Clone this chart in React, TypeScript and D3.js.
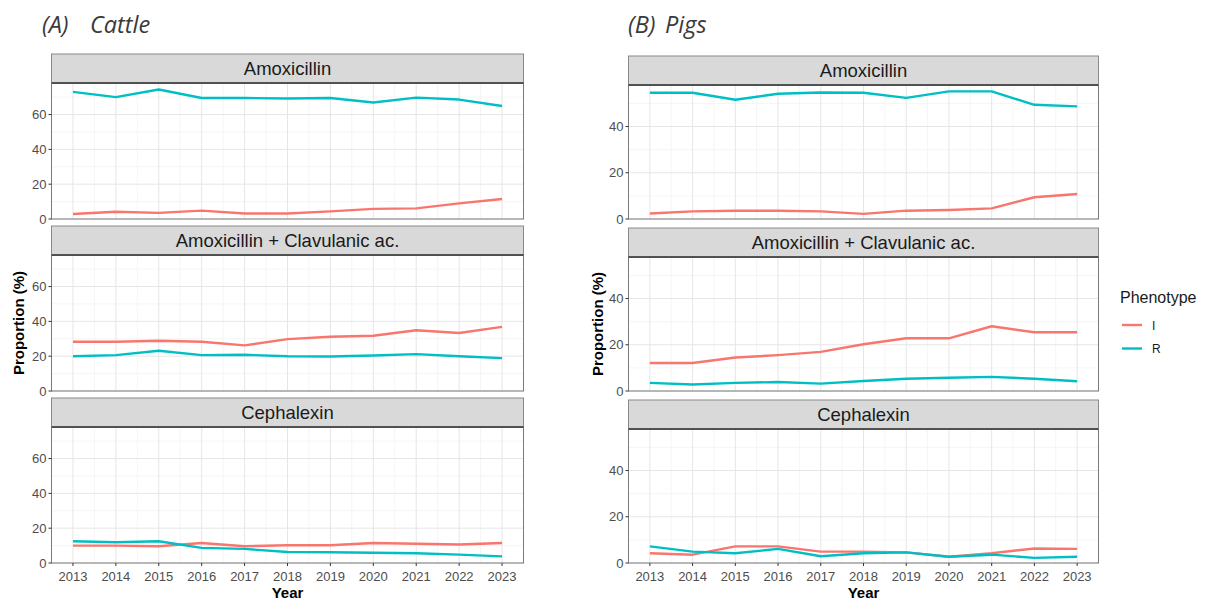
import React from "react";
import * as d3 from "d3";

const years = [2013, 2014, 2015, 2016, 2017, 2018, 2019, 2020, 2021, 2022, 2023];
const drugs = ["Amoxicillin", "Amoxicillin + Clavulanic ac.", "Cephalexin"];
const phenotypes = ["I", "R"];
const phenoColors = ["#F8766D", "#00BFC4"];

// Cattle
const cattleAmoxI = [2.9, 4.2, 3.5, 4.8, 3.2, 3.2, 4.4, 5.8, 6.1, 9.0, 11.5];
const cattleAmoxR = [73.0, 70.0, 74.4, 69.5, 69.5, 69.2, 69.5, 66.9, 69.7, 68.6, 64.9];
const cattleClavI = [28.3, 28.3, 28.9, 28.3, 26.2, 29.8, 31.2, 31.7, 34.9, 33.3, 36.8];
const cattleClavR = [20.0, 20.6, 23.1, 20.6, 20.8, 20.0, 19.8, 20.4, 21.2, 20.0, 18.9];
const cattleCephI = [10.0, 10.0, 9.6, 11.5, 9.6, 10.2, 10.2, 11.5, 11.1, 10.6, 11.5];
const cattleCephR = [12.5, 11.9, 12.5, 8.7, 8.1, 6.3, 6.2, 5.9, 5.6, 4.8, 3.8];

// Pigs
const pigsAmoxI = [2.4, 3.3, 3.6, 3.6, 3.3, 2.2, 3.6, 3.9, 4.6, 9.4, 10.8];
const pigsAmoxR = [54.6, 54.6, 51.6, 54.2, 54.7, 54.6, 52.4, 55.2, 55.2, 49.4, 48.7];
const pigsClavI = [12.1, 12.1, 14.5, 15.5, 16.9, 20.2, 22.8, 22.8, 28.0, 25.4, 25.4];
const pigsClavR = [3.5, 2.8, 3.5, 3.9, 3.2, 4.3, 5.3, 5.7, 6.1, 5.3, 4.2];
const pigsCephI = [4.2, 3.6, 7.2, 7.2, 4.9, 4.9, 4.6, 2.7, 4.2, 6.3, 6.1];
const pigsCephR = [7.2, 4.9, 4.2, 6.1, 2.9, 4.2, 4.6, 2.7, 3.6, 2.2, 2.7];

const cattleTicks = [0, 20, 40, 60];
const pigsTicks = [0, 20, 40];

const cattleData = [
  [cattleAmoxI, cattleAmoxR],
  [cattleClavI, cattleClavR],
  [cattleCephI, cattleCephR],
];
const pigsData = [
  [pigsAmoxI, pigsAmoxR],
  [pigsClavI, pigsClavR],
  [pigsCephI, pigsCephR],
];

const SANS = "'Liberation Sans', Arial, sans-serif";

type ChartProps = {
  left: number;
  right: number;
  top: number;
  stripH: number;
  panelH: number;
  gap: number;
  data: number[][][];
  ticks: number[];
  title: string[];
  titleX: number[];
  yTitleX: number;
};

function Facets(p: ChartProps) {
  const allVals = p.data.flat(2);
  const yMax = (d3.max(allVals) as number) * 1.05;
  const x = d3
    .scaleLinear()
    .domain([years[0] - 0.5, years[years.length - 1] + 0.5])
    .range([p.left, p.right]);
  const pitch = p.stripH + p.panelH + p.gap;
  const minorX = d3.range(years[0] - 0.5, years[years.length - 1] + 0.51, 1);
  const step = p.ticks[1] - p.ticks[0];
  const minorY = d3.range(step / 2, yMax, step);
  const lastBottom = p.top + 2 * pitch + p.stripH + p.panelH;
  const midY = (p.top + p.stripH + lastBottom) / 2;

  return (
    <g>
      {p.title.map((t, k) => (
        <text key={t} x={p.titleX[k]} y={33} fontFamily="'Open Sans', sans-serif" fontStyle="italic" fontSize={23.5} fill="#3a3a3a">
          {t}
        </text>
      ))}
      {drugs.map((drug, i) => {
        const sTop = p.top + i * pitch;
        const pTop = sTop + p.stripH;
        const pBot = pTop + p.panelH;
        const y = d3.scaleLinear().domain([0, yMax]).range([pBot, pTop]);
        const line = d3
          .line<number>()
          .x((_, j) => x(years[j]))
          .y((v) => y(v));
        return (
          <g key={drug}>
            <rect x={p.left} y={pTop} width={p.right - p.left} height={p.panelH} fill="#fff" />
            {minorX.map((v) => (
              <line key={"mx" + v} x1={x(v)} x2={x(v)} y1={pTop} y2={pBot} stroke="#F2F2F2" strokeWidth={0.8} />
            ))}
            {minorY.map((v) => (
              <line key={"my" + v} x1={p.left} x2={p.right} y1={y(v)} y2={y(v)} stroke="#F2F2F2" strokeWidth={0.8} />
            ))}
            {years.map((v) => (
              <line key={"gx" + v} x1={x(v)} x2={x(v)} y1={pTop} y2={pBot} stroke="#E6E6E6" strokeWidth={1} />
            ))}
            {p.ticks.map((v) => (
              <line key={"gy" + v} x1={p.left} x2={p.right} y1={y(v)} y2={y(v)} stroke="#E6E6E6" strokeWidth={1} />
            ))}
            {p.data[i].map((vals, k) => (
              <path key={phenotypes[k]} d={line(vals) || ""} fill="none" stroke={phenoColors[k]} strokeWidth={2.4} strokeLinejoin="round" />
            ))}
            <rect x={p.left} y={pTop} width={p.right - p.left} height={p.panelH} fill="none" stroke="#7a7a7a" strokeWidth={1} />
            <rect x={p.left} y={sTop} width={p.right - p.left} height={p.stripH} fill="#D9D9D9" stroke="#8a8a8a" strokeWidth={1} />
            <line x1={p.left} x2={p.right} y1={pTop} y2={pTop} stroke="#333" strokeWidth={1.3} />
            <text x={(p.left + p.right) / 2} y={sTop + p.stripH / 2 + 6.5} textAnchor="middle" fontFamily={SANS} fontSize={18.5} fill="#1a1a1a">
              {drug}
            </text>
            {p.ticks.map((v) => (
              <g key={"ty" + v}>
                <line x1={p.left - 3} x2={p.left} y1={y(v)} y2={y(v)} stroke="#333" strokeWidth={1} />
                <text x={p.left - 5} y={y(v) + 4.5} textAnchor="end" fontFamily={SANS} fontSize={13} fill="#4D4D4D">
                  {v}
                </text>
              </g>
            ))}
            {i === drugs.length - 1 &&
              years.map((v) => (
                <g key={"tx" + v}>
                  <line x1={x(v)} x2={x(v)} y1={pBot} y2={pBot + 3} stroke="#333" strokeWidth={1} />
                  <text x={x(v)} y={pBot + 18} textAnchor="middle" fontFamily={SANS} fontSize={13} fill="#4D4D4D">
                    {v}
                  </text>
                </g>
              ))}
          </g>
        );
      })}
      <text x={(p.left + p.right) / 2} y={lastBottom + 35} textAnchor="middle" fontFamily={SANS} fontWeight="bold" fontSize={15} fill="#000">
        Year
      </text>
      <text transform={`translate(${p.yTitleX},${midY}) rotate(-90)`} textAnchor="middle" fontFamily={SANS} fontWeight="bold" fontSize={15} fill="#000">
        Proportion (%)
      </text>
    </g>
  );
}

export default function App() {
  return (
    <svg width={1209} height={601} style={{ display: "block", position: "absolute", left: 0, top: 0 }}>
      <rect width={1209} height={601} fill="#fff" />
      <Facets left={51.5} right={523.5} top={54} stripH={29} panelH={136} gap={7} data={cattleData} ticks={cattleTicks} title={["(A)", "Cattle"]} titleX={[42, 90]} yTitleX={23.5} />
      <Facets left={628.5} right={1098.5} top={56} stripH={29} panelH={134} gap={9} data={pigsData} ticks={pigsTicks} title={["(B)", "Pigs"]} titleX={[628, 665]} yTitleX={603} />
      <g>
        <text x={1120} y={303} fontFamily={SANS} fontSize={16} fill="#1a1a1a">
          Phenotype
        </text>
        {phenotypes.map((ph, k) => (
          <g key={ph}>
            <line x1={1122} x2={1142} y1={325 + k * 23.5} y2={325 + k * 23.5} stroke={phenoColors[k]} strokeWidth={2.4} />
            <text x={1152} y={329.5 + k * 23.5} fontFamily={SANS} fontSize={12} fill="#1a1a1a">
              {ph}
            </text>
          </g>
        ))}
      </g>
    </svg>
  );
}
